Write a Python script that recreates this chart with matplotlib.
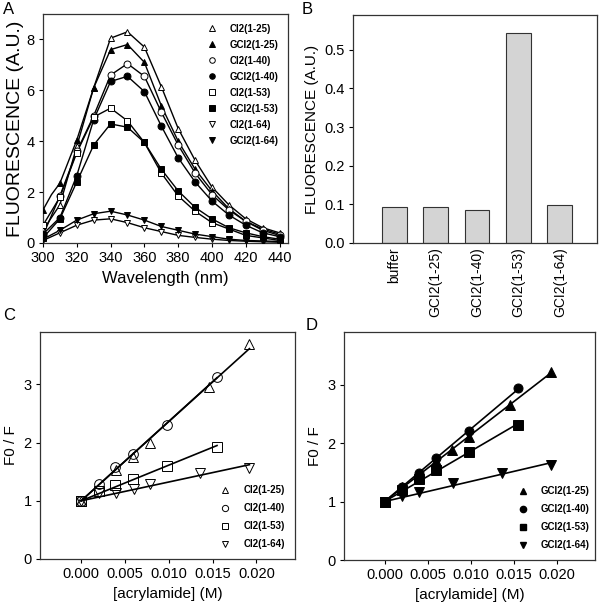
import numpy as np
import matplotlib
matplotlib.use("Agg")
import matplotlib.pyplot as plt
from matplotlib.lines import Line2D

plt.rcParams['font.family'] = ['Liberation Sans', 'DejaVu Sans']

#----------------------------------------------------------------------
#   dados
#----------------------------------------------------------------------
# painel A - espectros de emissao (marcadores a cada 10 nm)
wl = [300, 310, 320, 330, 340, 350, 360, 370, 380, 390, 400, 410, 420, 430, 440]
ci2_25 = [0.5, 1.5, 3.8, 6.1, 8.05, 8.3, 7.7, 6.15, 4.5, 3.25, 2.2, 1.5, 0.95, 0.6, 0.4]
gci2_25 = [1.3, 2.35, 4.05, 6.1, 7.6, 7.8, 7.1, 5.4, 4.0, 2.9, 2.05, 1.35, 0.85, 0.55, 0.35]
ci2_40 = [0.3, 1.85, 3.6, 5.0, 6.6, 7.05, 6.55, 5.15, 3.85, 2.75, 1.9, 1.3, 0.85, 0.5, 0.3]
gci2_40 = [0.35, 1.0, 2.65, 4.85, 6.35, 6.55, 5.95, 4.6, 3.35, 2.4, 1.65, 1.1, 0.7, 0.4, 0.25]
ci2_53 = [0.7, 1.8, 3.55, 4.95, 5.3, 4.8, 3.95, 2.75, 1.85, 1.25, 0.8, 0.55, 0.3, 0.2, 0.1]
gci2_53 = [0.2, 0.95, 2.4, 3.85, 4.68, 4.55, 3.95, 2.9, 2.05, 1.4, 0.95, 0.6, 0.4, 0.25, 0.15]
ci2_64 = [0.1, 0.4, 0.7, 0.9, 0.95, 0.8, 0.6, 0.45, 0.3, 0.22, 0.15, 0.1, 0.07, 0.05, 0.03]
gci2_64 = [0.15, 0.5, 0.9, 1.15, 1.25, 1.1, 0.9, 0.65, 0.5, 0.35, 0.25, 0.15, 0.1, 0.08, 0.06]
# ombro em 305 nm da curva GCI2(1-25)
gci2_25_ombro = (305, 1.9)

nomes_A = ['CI2(1-25)', 'GCI2(1-25)', 'CI2(1-40)', 'GCI2(1-40)',
           'CI2(1-53)', 'GCI2(1-53)', 'CI2(1-64)', 'GCI2(1-64)']

# painel B - barras
amostras = ['buffer', 'GCI2(1-25)', 'GCI2(1-40)', 'GCI2(1-53)', 'GCI2(1-64)']
fluor_B = [0.092, 0.092, 0.086, 0.543, 0.098]

# painel C - Stern-Volmer CI2
x25 = [0.0, 0.004, 0.0059, 0.0079, 0.0146, 0.0192]
c_25 = [1.0, 1.53, 1.76, 2.0, 2.95, 3.69]
x40 = [0.0, 0.002, 0.0039, 0.0059, 0.0098, 0.0155]
c_40 = [1.0, 1.29, 1.58, 1.80, 2.31, 3.12]
x53 = [0.0, 0.002, 0.0039, 0.0059, 0.0098, 0.0155]
c_53 = [1.0, 1.16, 1.27, 1.38, 1.60, 1.93]
x64 = [0.0, 0.002, 0.004, 0.006, 0.0079, 0.0136, 0.0192]
c_64 = [1.0, 1.13, 1.14, 1.21, 1.29, 1.47, 1.57]

# painel D - Stern-Volmer GCI2
gx25 = [0.0, 0.002, 0.004, 0.006, 0.0078, 0.0098, 0.0146, 0.0193]
d_25 = [1.0, 1.25, 1.45, 1.70, 1.88, 2.10, 2.65, 3.22]
gx40 = [0.0, 0.002, 0.004, 0.006, 0.0098, 0.0155]
d_40 = [1.0, 1.25, 1.48, 1.74, 2.20, 2.94]
gx53 = [0.0, 0.002, 0.004, 0.006, 0.0098, 0.0155]
d_53 = [1.0, 1.20, 1.38, 1.54, 1.85, 2.31]
gx64 = [0.0, 0.002, 0.004, 0.0079, 0.0136, 0.0193]
d_64 = [1.0, 1.10, 1.17, 1.31, 1.48, 1.63]

#----------------------------------------------------------------------
fig = plt.figure(figsize=(6.0, 6.06), dpi=100)
W, H = 600.0, 606.0

def eixo(l, r, t, b):
    return fig.add_axes([l / W, 1 - b / H, (r - l) / W, (b - t) / H])

def estilo(ax):
    for s in ax.spines.values():
        s.set_linewidth(0.9)
        s.set_color('#333333')
    ax.tick_params(direction='out', length=3, width=0.8, labelsize=10.5, pad=3)

# ---------------- A ----------------
axA = eixo(43, 288, 14, 243)
estilo(axA)
serA = [ci2_25, gci2_25, ci2_40, gci2_40, ci2_53, gci2_53, ci2_64, gci2_64]
mk = ['^', '^', 'o', 'o', 's', 's', 'v', 'v']
cheio = [False, True] * 4
for i, ys in enumerate(serA):
    xs_l, ys_l = list(wl), list(ys)
    if i == 1:
        xs_l.insert(1, gci2_25_ombro[0])
        ys_l.insert(1, gci2_25_ombro[1])
    axA.plot(xs_l, ys_l, color='black', lw=1.0, zorder=2)
    axA.plot(wl, ys, ls='none', marker=mk[i], ms=5,
             mfc='black' if cheio[i] else 'white', mec='black', mew=0.7, zorder=3)
axA.set_xlim(300, 445)
axA.set_ylim(0, 9)
axA.set_xticks(range(300, 441, 20))
axA.set_yticks([0, 2, 4, 6, 8])
axA.set_xlabel('Wavelength (nm)', fontsize=12)
axA.set_ylabel('FLUORESCENCE (A.U.)', fontsize=14, labelpad=2)
hA = [Line2D([], [], ls='none', marker=mk[i], ms=4,
             mfc='black' if cheio[i] else 'white', mec='black', mew=0.7)
      for i in range(8)]
axA.legend(hA, nomes_A, loc='upper left', bbox_to_anchor=(0.655, 0.975), frameon=False,
           prop={'weight': 'bold', 'size': 7}, handlelength=1.0, handletextpad=1.3,
           labelspacing=0.62, borderaxespad=0)

# ---------------- B ----------------
axB = eixo(353, 597, 15, 243)
estilo(axB)
pos = np.arange(1, len(amostras) + 1)
axB.bar(pos, fluor_B, width=0.6, color='#d4d4d4', edgecolor='#333333', linewidth=0.8)
axB.set_xlim(0, 5.9)
axB.set_ylim(0, 0.59)
axB.set_xticks(pos)
axB.set_xticklabels(amostras, rotation=90, fontsize=10)
axB.tick_params(axis='x', length=0)
axB.set_yticks([0.0, 0.1, 0.2, 0.3, 0.4, 0.5])
axB.set_yticklabels(['0.0', '0.1', '0.2', '0.3', '0.4', '0.5'])
axB.set_ylabel('FLUORESCENCE (A.U.)', fontsize=11)

# ---------------- C e D ----------------
def stern_volmer(ax, series, cheio):
    for xs, ys, m in series:
        xs = np.array(xs)
        ys = np.array(ys)
        k = np.sum(xs * (ys - 1)) / np.sum(xs ** 2)
        xl = np.array([0, xs.max()])
        ax.plot(xl, 1 + k * xl, color='black', lw=1.2, zorder=2)
        ax.plot(xs, ys, ls='none', marker=m, ms=7 if not cheio else 6.5,
                mfc='black' if cheio else 'none', mec='black', mew=0.7, zorder=3)
    ax.set_xlim(-0.0047, 0.0244)
    ax.set_ylim(0, 3.9)
    ax.set_xticks([0.0, 0.005, 0.010, 0.015, 0.020])
    ax.set_xticklabels(['0.000', '0.005', '0.010', '0.015', '0.020'])
    ax.set_yticks([0, 1, 2, 3])
    ax.set_xlabel('[acrylamide] (M)', fontsize=11)
    ax.set_ylabel('F0 / F', fontsize=11)

axC = eixo(40, 295, 332, 559)
estilo(axC)
serC = [(x25, c_25, '^'), (x40, c_40, 'o'), (x53, c_53, 's'), (x64, c_64, 'v')]
stern_volmer(axC, serC, False)
hC = [Line2D([], [], ls='none', marker=s[2], ms=4.5, mfc='white', mec='black', mew=0.7) for s in serC]
axC.legend(hC, ['CI2(1-25)', 'CI2(1-40)', 'CI2(1-53)', 'CI2(1-64)'], loc='lower left',
           bbox_to_anchor=(0.69, 0.026), frameon=False, prop={'weight': 'bold', 'size': 7},
           handlelength=1.0, handletextpad=1.4, labelspacing=0.83, borderaxespad=0)

axD = eixo(344, 595, 332, 560)
estilo(axD)
serD = [(gx25, d_25, '^'), (gx40, d_40, 'o'), (gx53, d_53, 's'), (gx64, d_64, 'v')]
stern_volmer(axD, serD, True)
hD = [Line2D([], [], ls='none', marker=s[2], ms=4.5, mfc='black', mec='black') for s in serD]
axD.legend(hD, ['GCI2(1-25)', 'GCI2(1-40)', 'GCI2(1-53)', 'GCI2(1-64)'], loc='lower left',
           bbox_to_anchor=(0.68, 0.026), frameon=False, prop={'weight': 'bold', 'size': 7},
           handlelength=1.0, handletextpad=1.3, labelspacing=0.83, borderaxespad=0)

# letras dos paineis
for letra, x, y in [('A', 9, 9), ('B', 307, 9), ('C', 9, 315), ('D', 312, 325)]:
    fig.text(x / W, 1 - y / H, letra, fontsize=12, ha='center', va='center')

fig.savefig('out.png', dpi=100)
